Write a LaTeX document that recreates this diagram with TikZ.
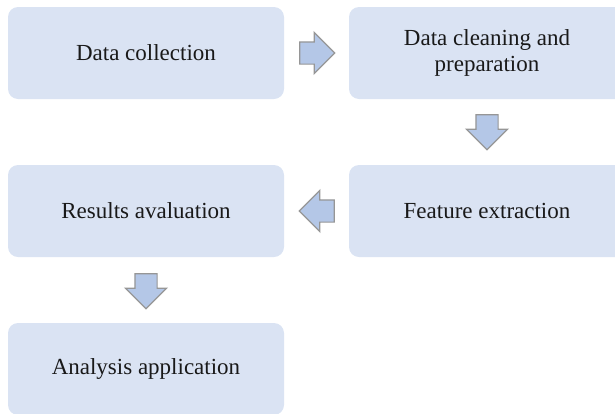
\documentclass[tikz,border=0pt]{standalone}
\usepackage{fontspec}
\setmainfont{Liberation Serif}
\usepackage{xcolor}
\definecolor{fcboxblue}{RGB}{218,227,243}
\definecolor{fcarrowblue}{RGB}{180,199,231}
\definecolor{fcgray}{RGB}{150,150,150}
\definecolor{fctext}{RGB}{25,25,25}
\usepackage{tikz}
\usetikzlibrary{calc,shapes.arrows}

\begin{document}
\begin{tikzpicture}[x=1pt,y=-1pt,
  box/.style={fill=fcboxblue,rounded corners=10pt,minimum width=276pt,minimum height=92pt,
    align=center,text=fctext,font=\fontsize{23}{26}\selectfont},
  flowarrow/.style={single arrow,draw=fcgray,line width=1.2pt,fill=fcarrowblue,
    minimum height=35pt,inner sep=10.5pt,single arrow head extend=9.5pt,
    single arrow tip angle=90,anchor=tail}]
  \clip (0,0) rectangle (615,413);
  % Row 1
  \node[box] (collect) at (146,53) {Data collection};
  \node[box] (clean) at (487,53) {Data cleaning and\\preparation};
  % Row 2
  \node[box] (feature) at (487,211) {Feature extraction};
  \node[box] (results) at (146,211) {Results avaluation};
  % Row 3
  \node[box] (apply) at (146,369) {Analysis application};
  % Block arrows between the boxes
  \node[flowarrow] (a1) at ($(collect.east)!15pt!(clean.west)$) {};
  \node[flowarrow,rotate=-90] (a2) at ($(clean.south)!15pt!(feature.north)$) {};
  \node[flowarrow,rotate=180] (a3) at ($(feature.west)!14pt!(results.east)$) {};
  \node[flowarrow,rotate=-90] (a4) at ($(results.south)!16pt!(apply.north)$) {};
\end{tikzpicture}
\end{document}
